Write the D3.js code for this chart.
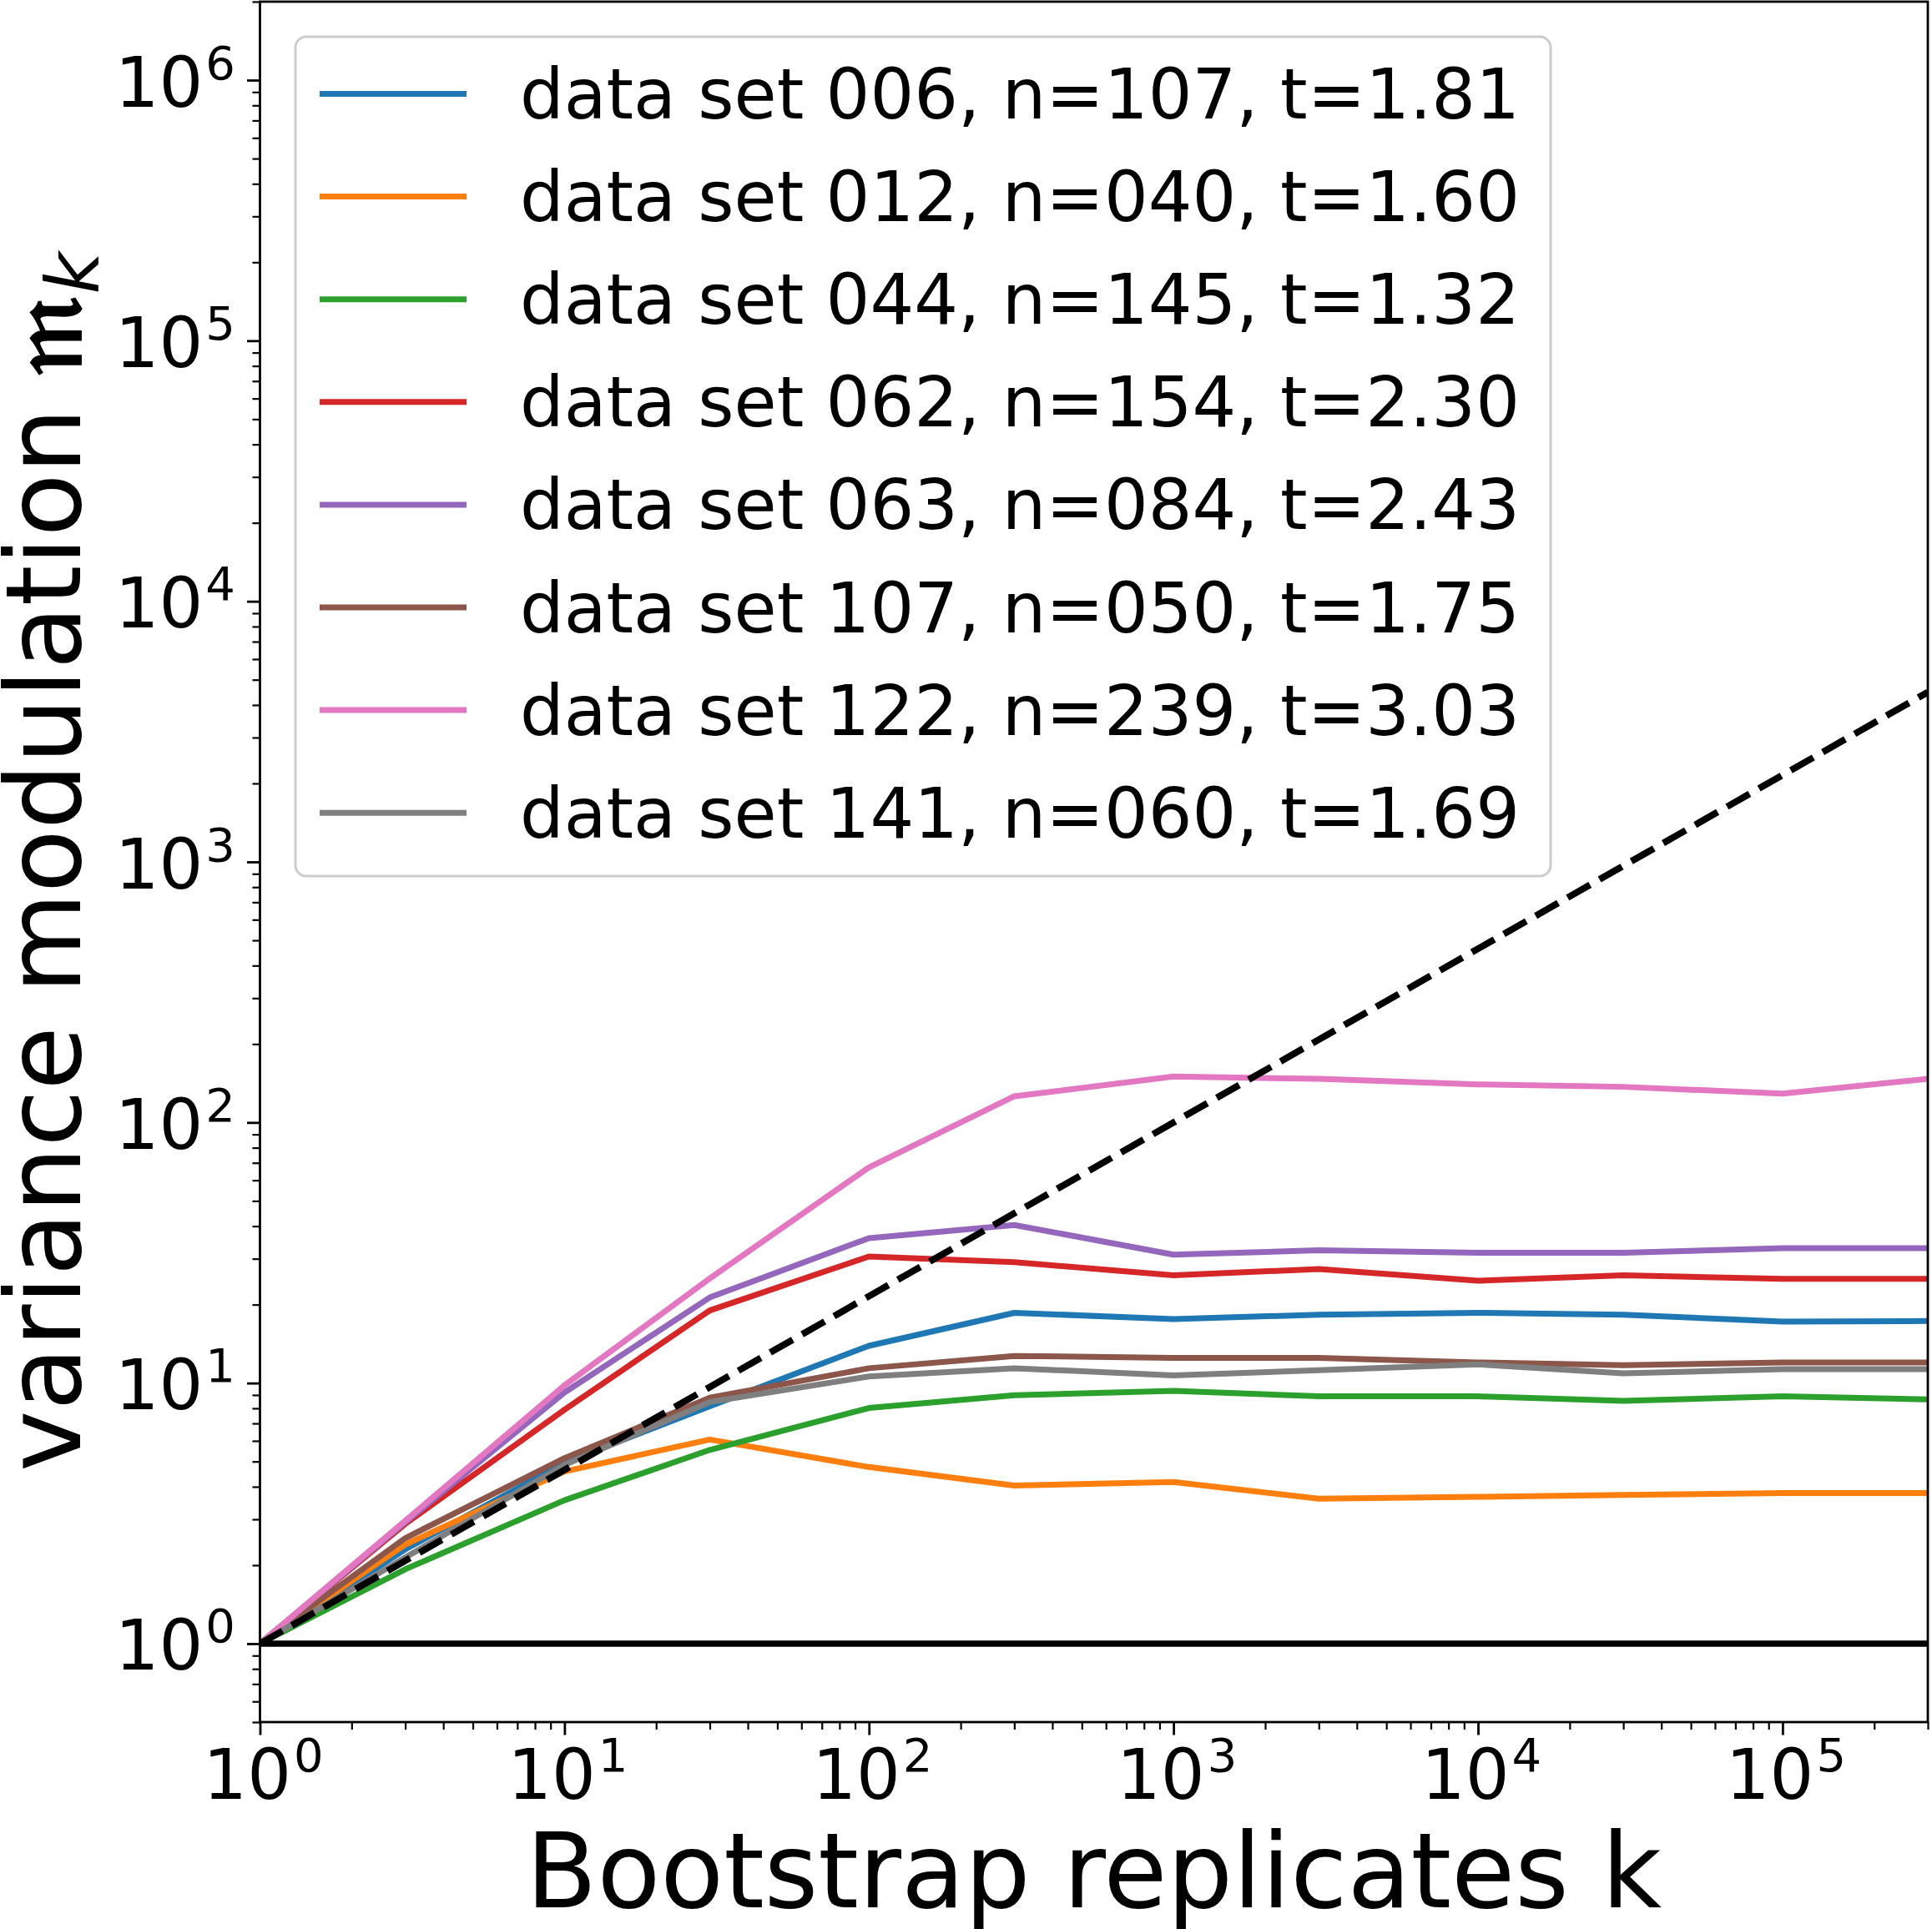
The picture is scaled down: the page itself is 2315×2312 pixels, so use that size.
<!DOCTYPE html>
<html>
<head>
<meta charset="utf-8">
<script src="https://cdnjs.cloudflare.com/ajax/libs/d3/7.8.5/d3.min.js"></script>
<style>
body { margin: 0; background: #fff; }
text { font-family: "DejaVu Sans", sans-serif; fill: #000; }
</style>
</head>
<body>
<div id="chart"></div>
<script>
// bootstrap replicate counts (x) shared by every data set
var kValues = [1, 3, 10, 30, 100, 300, 1000, 3000, 10000, 30000, 100000, 300000];

var labels = [
	"data set 006, n=107, t=1.81",
	"data set 012, n=040, t=1.60",
	"data set 044, n=145, t=1.32",
	"data set 062, n=154, t=2.30",
	"data set 063, n=084, t=2.43",
	"data set 107, n=050, t=1.75",
	"data set 122, n=239, t=3.03",
	"data set 141, n=060, t=1.69"
];
var colors = ["#1f77b4", "#ff7f0e", "#2ca02c", "#d62728", "#9467bd", "#8c564b", "#e377c2", "#7f7f7f"];

var set006 = [1, 2.30, 4.95, 8.15, 13.9, 18.6, 17.6, 18.3, 18.6, 18.3, 17.2, 17.3];
var set012 = [1, 2.40, 4.58, 6.07, 4.76, 4.04, 4.17, 3.60, 3.66, 3.72, 3.78, 3.78];
var set044 = [1, 1.93, 3.55, 5.54, 8.02, 8.98, 9.34, 8.89, 8.89, 8.55, 8.89, 8.66];
var set062 = [1, 2.88, 7.9, 19.0, 30.6, 29.1, 25.9, 27.4, 24.7, 25.9, 25.1, 25.1];
var set063 = [1, 2.92, 9.2, 21.3, 36.0, 40.4, 31.1, 32.3, 31.6, 31.6, 32.9, 32.9];
var set107 = [1, 2.54, 5.15, 8.78, 11.4, 12.7, 12.5, 12.5, 12.0, 11.7, 12.0, 12.0];
var set122 = [1, 2.96, 9.8, 25.2, 67.3, 126, 150, 147, 140, 137, 129, 147];
var set141 = [1, 2.14, 4.85, 8.46, 10.6, 11.4, 10.7, 11.2, 11.8, 10.9, 11.3, 11.3];
var series = [set006, set012, set044, set062, set063, set107, set122, set141];

// dashed reference line and the m=1 line, end points
var refK = [1, 300000];
var refV = [1, 4480];
var oneK = [1, 300000];
var oneV = [1, 1];

var xTickExps = [0, 1, 2, 3, 4, 5];
var yTickExps = [0, 1, 2, 3, 4, 5, 6];

var width = 2315, height = 2312;
var pLeft = 311.5, pRight = 2310, pTop = 2, pBottom = 2064;

var svg = d3.select("#chart").append("svg")
	.attr("width", width).attr("height", height);

var x = d3.scaleLog().domain([1, 3e5]).range([pLeft, pRight]);
var y = d3.scaleLog().domain([0.5, 2e6]).range([pBottom, pTop]);

svg.append("clipPath").attr("id", "plotclip").append("rect")
	.attr("x", pLeft).attr("y", pTop).attr("width", pRight - pLeft).attr("height", pBottom - pTop);

function notPow10(d) { return Math.abs(Math.log10(d) - Math.round(Math.log10(d))) > 1e-9; }
var xMinor = x.ticks().filter(notPow10);
var yMinor = y.ticks().filter(notPow10);
var xMajor = xTickExps.map(function (e) { return Math.pow(10, e); });
var yMajor = yTickExps.map(function (e) { return Math.pow(10, e); });

function styleAxis(g, w) {
	g.select(".domain").remove();
	g.selectAll("line").attr("stroke", "#000").attr("stroke-width", w);
}

svg.append("g").attr("transform", "translate(0," + pBottom + ")")
	.call(d3.axisBottom(x).tickValues(xMinor).tickSize(9).tickFormat(""))
	.call(styleAxis, 2.2);
svg.append("g").attr("transform", "translate(0," + pBottom + ")")
	.call(d3.axisBottom(x).tickValues(xMajor).tickSize(15.5).tickFormat(""))
	.call(styleAxis, 2.8);
svg.append("g").attr("transform", "translate(" + pLeft + ",0)")
	.call(d3.axisLeft(y).tickValues(yMinor).tickSize(9).tickFormat(""))
	.call(styleAxis, 2.2);
svg.append("g").attr("transform", "translate(" + pLeft + ",0)")
	.call(d3.axisLeft(y).tickValues(yMajor).tickSize(15.5).tickFormat(""))
	.call(styleAxis, 2.8);

// tick labels as 10 with a superscript exponent
var xl = svg.selectAll(".xlab").data(xTickExps).enter().append("text")
	.attr("class", "xlab")
	.attr("x", function (d) { return x(Math.pow(10, d)) + 4; })
	.attr("y", pBottom + 92)
	.attr("text-anchor", "middle")
	.style("font-size", "83px");
xl.append("tspan").text("10");
xl.append("tspan").attr("dx", 3).attr("dy", -33).style("font-size", "56px").text(function (d) { return d; });

var yl = svg.selectAll(".ylab").data(yTickExps).enter().append("text")
	.attr("class", "ylab")
	.attr("x", 282)
	.attr("y", function (d) { return y(Math.pow(10, d)) + 31.5; })
	.attr("text-anchor", "end")
	.style("font-size", "83px");
yl.append("tspan").text("10");
yl.append("tspan").attr("dx", 3).attr("dy", -33).style("font-size", "56px").text(function (d) { return d; });

var plot = svg.append("g").attr("clip-path", "url(#plotclip)");

var line = d3.line()
	.x(function (d) { return x(d[0]); })
	.y(function (d) { return y(d[1]); });

series.forEach(function (vals, i) {
	plot.append("path")
		.datum(kValues.map(function (k, j) { return [k, vals[j]]; }))
		.attr("d", line)
		.attr("fill", "none")
		.attr("stroke", colors[i])
		.attr("stroke-width", 7)
		.attr("stroke-linejoin", "round");
});

plot.append("path")
	.datum(refK.map(function (k, j) { return [k, refV[j]]; }))
	.attr("d", line)
	.attr("fill", "none")
	.attr("stroke", "#000")
	.attr("stroke-width", 8)
	.attr("stroke-dasharray", "31,13");

plot.append("path")
	.datum(oneK.map(function (k, j) { return [k, oneV[j]]; }))
	.attr("d", line)
	.attr("fill", "none")
	.attr("stroke", "#000")
	.attr("stroke-width", 7.5);

// spines
svg.append("rect")
	.attr("x", pLeft).attr("y", pTop).attr("width", pRight - pLeft).attr("height", pBottom - pTop)
	.attr("fill", "none").attr("stroke", "#000").attr("stroke-width", 2.8);

// legend
var legend = svg.append("g");
legend.append("rect")
	.attr("x", 354).attr("y", 44).attr("width", 1504).attr("height", 1006)
	.attr("rx", 13).attr("ry", 13)
	.attr("fill", "#fff").attr("fill-opacity", 0.8)
	.attr("stroke", "#cccccc").attr("stroke-width", 3);

var rows = legend.selectAll(".row").data(labels).enter().append("g")
	.attr("class", "row")
	.attr("transform", function (d, i) { return "translate(0," + (112.5 + i * 123.1) + ")"; });
rows.append("line")
	.attr("x1", 383).attr("x2", 559)
	.attr("stroke", function (d, i) { return colors[i]; })
	.attr("stroke-width", 7);
rows.append("text")
	.attr("x", 623).attr("y", 29.5)
	.style("font-size", "83px")
	.text(function (d) { return d; });

// axis titles
svg.append("text")
	.attr("x", (pLeft + pRight) / 2).attr("y", 2286)
	.attr("text-anchor", "middle")
	.style("font-size", "124px")
	.text("Bootstrap replicates k");

var ylab = svg.append("text")
	.attr("transform", "translate(96," + (pTop + pBottom) / 2 + ") rotate(-90)")
	.attr("text-anchor", "middle")
	.style("font-size", "124px");
ylab.append("tspan").text("variance modulation ");
ylab.append("tspan").style("font-family", "'DejaVu Serif', serif").style("font-weight", "bold").text("\u{1D52A}");
ylab.append("tspan").attr("dx", 4).attr("dy", 21).style("font-style", "italic").style("font-size", "87px").text("k");
</script>
</body>
</html>
